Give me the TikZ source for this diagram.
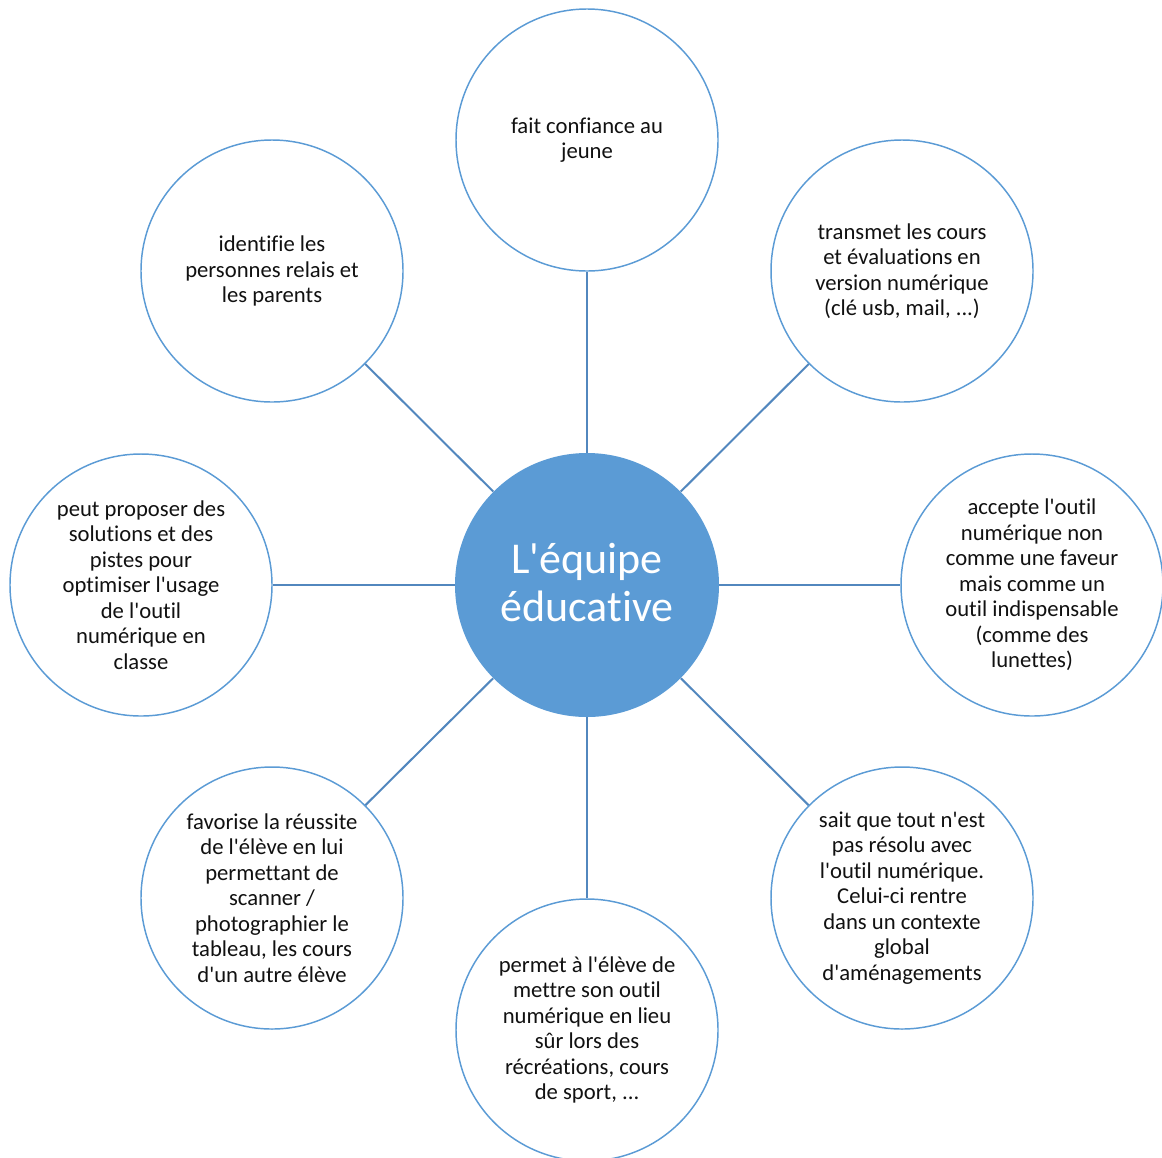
\documentclass[tikz,border=0pt]{standalone}
\usepackage{fontspec}
\setmainfont{Carlito}[Ligatures={TeXOff,CommonOff}]
\definecolor{circblue}{HTML}{5B9BD5}
\definecolor{linkblue}{HTML}{5287BE}
\definecolor{txt}{HTML}{111111}
\begin{document}
\begin{tikzpicture}[x=0.75pt,y=-0.75pt,
  leaf/.style={circle,draw=circblue,line width=1.1pt,fill=white,inner sep=0pt,
    minimum size=196.5pt,align=center,text=txt,
    font=\fontsize{17}{19.1}\selectfont},
  hub/.style={circle,fill=circblue,draw=none,inner sep=0pt,minimum size=198pt,
    align=center,text=white,font=\fontsize{33}{36}\selectfont},
  link/.style={draw=linkblue,line width=1.5pt}]
\useasboundingbox (0,0) rectangle (1162,1157);
\node[hub] (c) at (587,585) {L'équipe\\éducative\rule[-4.5pt]{0pt}{1pt}};
\node[leaf] (n) at (587,140) {fait confiance au\\jeune};
\node[leaf] (ne) at (902,271) {transmet les cours\\et évaluations en\\version numérique\\(clé usb, mail, ...)};
\node[leaf] (e) at (1032,585) {accepte l'outil\\numérique non\\comme une faveur\\mais comme un\\outil indispensable\\(comme des\\lunettes)};
\node[leaf] (se) at (902,898) {sait que tout n'est\\pas résolu avec\\l'outil numérique.\\Celui-ci rentre\\dans un contexte\\global\\d'aménagements};
\node[leaf] (s) at (587,1030) {permet à l'élève de\\mettre son outil\\numérique en lieu\\sûr lors des\\récréations, cours\\de sport, ...};
\node[leaf] (sw) at (272,898) {favorise la réussite\\de l'élève en lui\\permettant de\\scanner /\\photographier le\\tableau, les cours\\d'un autre élève};
\node[leaf] (w) at (141,585) {peut proposer des\\solutions et des\\pistes pour\\optimiser l'usage\\de l'outil\\numérique en\\classe};
\node[leaf] (nw) at (272,271) {identifie les\\personnes relais et\\les parents};
\foreach \t in {n,ne,e,se,s,sw,w,nw} \draw[link] (c) -- (\t);
\end{tikzpicture}
\end{document}
